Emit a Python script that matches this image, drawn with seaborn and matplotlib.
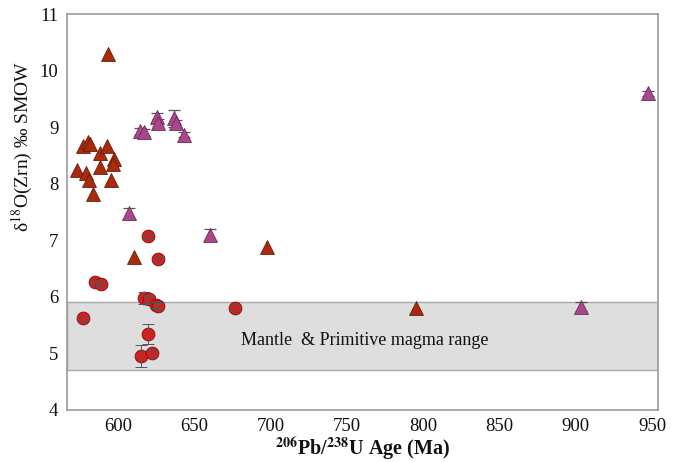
import numpy as np
import pandas as pd
import matplotlib
matplotlib.use("Agg")
import matplotlib.pyplot as plt
import seaborn as sns
from matplotlib.ticker import MultipleLocator

# Zircon U-Pb ages (Ma) and oxygen isotope values (per mil, SMOW)
tri_red_age = [573, 577, 580.5, 581.5, 579, 581, 583.5, 588, 588.5, 593, 593.5, 597.5, 596.5, 595.5, 610.5, 697.5, 795.5]
tri_red_d18o = [8.25, 8.67, 8.74, 8.71, 8.20, 8.06, 7.82, 8.29, 8.55, 8.67, 10.30, 8.44, 8.35, 8.07, 6.70, 6.89, 5.80]

tri_pur_age = [607.5, 614.5, 617, 625.5, 626.5, 636.5, 638, 643.5, 660.5, 903.5, 947.5]
tri_pur_d18o = [7.48, 8.93, 8.91, 9.18, 9.08, 9.16, 9.07, 8.87, 7.10, 5.82, 9.60]
tri_pur_err = [0.10, 0.06, 0.06, 0.08, 0.06, 0.15, 0.06, 0.05, 0.10, 0.08, 0.05]

circ_age = [619.5, 626, 585, 589, 617, 620.5, 625, 626.5, 577, 676.5, 619.5, 615, 622.5]
circ_d18o = [7.07, 6.67, 6.26, 6.22, 5.98, 5.96, 5.85, 5.84, 5.62, 5.80, 5.34, 4.95, 5.00]
circ_err = [0.05, 0.05, 0.04, 0.04, 0.10, 0.05, 0.05, 0.05, 0.04, 0.05, 0.17, 0.20, 0.05]

mantle_low, mantle_high = 4.7, 5.9

df = pd.concat([
    pd.DataFrame({"age": tri_red_age, "d18o": tri_red_d18o, "group": "A"}),
    pd.DataFrame({"age": tri_pur_age, "d18o": tri_pur_d18o, "group": "B"}),
    pd.DataFrame({"age": circ_age, "d18o": circ_d18o, "group": "C"}),
], ignore_index=True)

sns.set_theme(style="white")
plt.rcParams["font.family"] = ["Liberation Serif", "DejaVu Serif"]
plt.rcParams["mathtext.fontset"] = "stix"

fig, ax = plt.subplots(figsize=(6.75, 4.62), dpi=100)
fig.subplots_adjust(left=0.099, right=0.975, top=0.969, bottom=0.113)

# mantle zircon field
ax.axhspan(mantle_low, mantle_high, facecolor="#dedede", edgecolor="#a8a8a8", lw=1.0, zorder=0)
ax.text(680.5, 5.22, "Mantle  & Primitive magma range", fontsize=13, va="center", ha="left", color="#111111")

# error bars behind the triangles
ax.errorbar(tri_pur_age, tri_pur_d18o, yerr=tri_pur_err, fmt="none", ecolor="#555555",
            elinewidth=0.9, capsize=4, capthick=0.9, zorder=2)

palette = {"A": "#a92a0c", "B": "#a8478c", "C": "#d91c1c"}
sns.scatterplot(data=df[df.group == "A"], x="age", y="d18o", marker="^", color=palette["A"],
                s=100, edgecolor="#6a1a08", linewidth=0.6, ax=ax, zorder=3, legend=False)
sns.scatterplot(data=df[df.group == "B"], x="age", y="d18o", marker="^", color=palette["B"],
                s=100, edgecolor="#6b2b5b", linewidth=0.6, ax=ax, zorder=3, legend=False)
sns.scatterplot(data=df[df.group == "C"], x="age", y="d18o", marker="o", color=palette["C"],
                s=85, edgecolor="#7a1010", linewidth=0.6, ax=ax, zorder=3, legend=False)
# error lines drawn over the circles
ax.errorbar(circ_age, circ_d18o, yerr=circ_err, fmt="none", ecolor="#555555",
            elinewidth=0.7, capsize=4, capthick=0.7, zorder=5)

ax.set_xlim(566.5, 954)
ax.set_ylim(4, 11)
ax.xaxis.set_major_locator(MultipleLocator(50))
ax.xaxis.set_minor_locator(MultipleLocator(10))
ax.yaxis.set_major_locator(MultipleLocator(1))
ax.yaxis.set_minor_locator(MultipleLocator(0.5))

ax.tick_params(axis="both", which="both", direction="in", colors="#888888", labelcolor="#111111",
               labelsize=13.5, top=False, right=False)
ax.tick_params(axis="x", which="major", length=7, width=0.8, pad=6)
ax.tick_params(axis="x", which="minor", length=3.5, width=0.8)
ax.tick_params(axis="y", which="major", length=6, width=0.8, pad=6)
ax.tick_params(axis="y", which="minor", length=6, width=0.8)

for sp in ax.spines.values():
    sp.set_color("#999999")
    sp.set_linewidth(1.2)

ax.set_xlabel(r"$^{\mathbf{206}}$Pb/$^{\mathbf{238}}$U Age (Ma)", fontsize=14.5, fontweight="bold",
              color="#111111")
ax.xaxis.set_label_coords(0.5, -0.066)
ax.set_ylabel(r"δ$^{18}$O(Zrn) ‰ SMOW", fontsize=14, color="#111111")
ax.yaxis.set_label_coords(-0.053, 0.665)

fig.savefig("out.png", dpi=100)
